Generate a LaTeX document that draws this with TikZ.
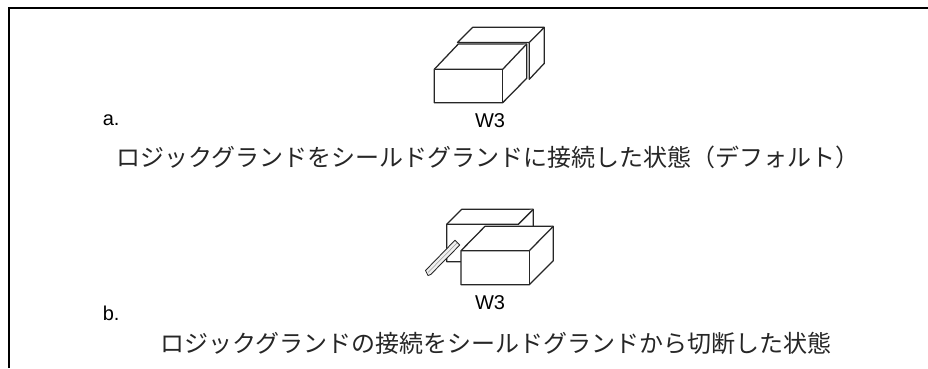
\documentclass[tikz,border=0pt]{standalone}
\usepackage{fontspec}
\setmainfont{Liberation Sans}
\newfontfamily\cjk{Noto Sans CJK JP}
\tikzset{
  px/.style={x=0.75pt,y=-0.75pt},
  frameline/.style={line width=1.5pt,black},
  boxline/.style={line width=0.95pt,draw=black!85,fill=white,line join=round},
  lab/.style={inner sep=0pt,anchor=base west,font=\fontsize{15pt}{18pt}\selectfont},
  wthree/.style={inner sep=0pt,anchor=base,font=\fontsize{15pt}{18pt}\selectfont},
  captext/.style={inner sep=0pt,anchor=base,text=black!85,font=\cjk\fontsize{18pt}{22pt}\selectfont}
}
\begin{document}
\begin{tikzpicture}[px]
\useasboundingbox (0,0) rectangle (928,368);
\draw[frameline] (9,368) -- (9,8) -- (928,8);
% top switch
\draw[boxline] (457.5,42.5) -- (472.7,27.3) -- (544.3,27.3) -- (544.3,63.3) -- (529.3,79.3) -- (529.3,42.5) -- cycle;
\draw[boxline] (529.3,42.5) -- (544.3,27.3);
\draw[boxline] (458.3,44) -- (526.7,44) -- (526.7,78.3) -- (502.7,102.7) -- (434.3,102.7) -- (434.3,69.3) -- cycle;
\draw[boxline] (434.3,69.3) -- (502.7,69.3) -- (526.7,44);
\draw[boxline] (502.7,69.3) -- (502.7,102.7);
% bottom switch
\draw[boxline] (446.7,224.3) -- (461.7,209.3) -- (533.3,209.3) -- (533.3,261.7) -- (446.7,261.7) -- cycle;
\draw[boxline] (446.7,224.3) -- (518.3,224.3) -- (533.3,209.3);
\draw[boxline] (485,226.3) -- (553.3,226.3) -- (553.3,260.7) -- (529.3,284.7) -- (461,284.7) -- (461,250.7) -- cycle;
\draw[boxline] (461,250.7) -- (529.3,250.7) -- (553.3,226.3);
\draw[boxline] (529.3,250.7) -- (529.3,284.7);
\draw[line width=0.65pt,draw=black!85,fill=black!6,line join=round] (455,240.2) -- (459.8,245) -- (430.7,274.5) -- (428,275.5) -- (425.5,270.5) -- cycle;
\draw[line width=0.4pt,black!40] (457,243) -- (428,272.5);
\node[wthree] (wa) at (490,127) {W3};
\node[wthree] (wb) at (490,309) {W3};
\node[lab] (la) at (102.5,125) {a.};
\node[lab] (lb) at (102.5,320) {b.};
\node[captext] (ca) at (488,166) {ロジックグランドをシールドグランドに接続した状態（デフォルト）};
\node[captext] (cb) at (496,352) {ロジックグランドの接続をシールドグランドから切断した状態};
\end{tikzpicture}
\end{document}
